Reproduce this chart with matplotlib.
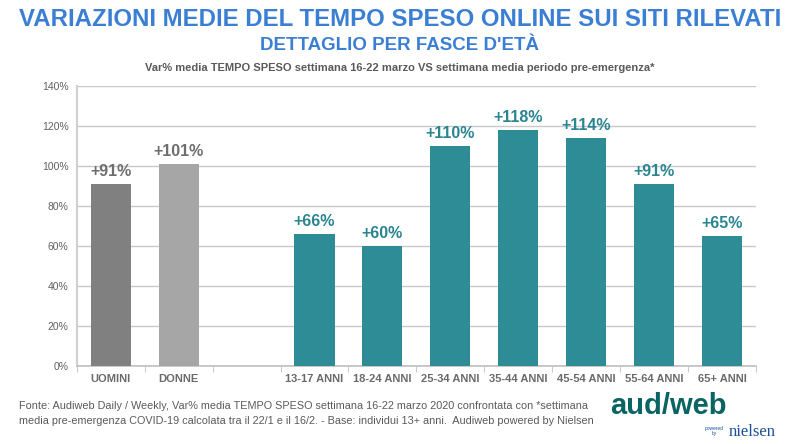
import matplotlib
matplotlib.use("Agg")
from matplotlib import pyplot as plt
import numpy as np

# valori
categorie = ["UOMINI", "DONNE", "", "13-17 ANNI", "18-24 ANNI", "25-34 ANNI",
             "35-44 ANNI", "45-54 ANNI", "55-64 ANNI", "65+ ANNI"]
valori = [91, 101, None, 66, 60, 110, 118, 114, 91, 65]
etichette = ["+91%", "+101%", "", "+66%", "+60%", "+110%", "+118%", "+114%", "+91%", "+65%"]
colori = ["#808080", "#a6a6a6", "none"] + ["#2e8c96"] * 7
colori_testo = ["#6e6e6e", "#6e6e6e", "none"] + ["#2a8590"] * 7
y_ticks = [0, 20, 40, 60, 80, 100, 120, 140]

plt.rcParams["font.family"] = ["Liberation Sans", "DejaVu Sans"]

fig = plt.figure(figsize=(8, 4.44), dpi=100)
ax = fig.add_axes([0.096, 0.176, 0.849, 0.630])

x = np.arange(len(categorie))
for i, v in enumerate(valori):
    if v is None:
        continue
    ax.bar(x[i], v, width=0.59, color=colori[i], zorder=3)
    ax.text(x[i], v + 2.5, etichette[i], ha="center", va="bottom",
            fontsize=11.5, fontweight="bold", color=colori_testo[i])

ax.set_xlim(-0.5, len(categorie) - 0.5)
ax.set_ylim(0, 140)
ax.set_yticks(y_ticks)
ax.set_yticklabels([f"{t}%" for t in y_ticks], fontsize=7.5, color="#606060")
ax.yaxis.grid(True, color="#c8c8c8", linewidth=1, zorder=0)
ax.tick_params(axis="y", length=0, pad=6)

ax.set_xticks(x)
ax.set_xticklabels(categorie, fontsize=8, fontweight="bold", color="#6a6a6a")
ax.tick_params(axis="x", which="major", length=0, pad=6)
ax.set_xticks(np.arange(-0.5, len(categorie)), minor=True)
ax.tick_params(axis="x", which="minor", length=4, color="#c0c0c0", direction="out")

for s in ["top", "right"]:
    ax.spines[s].set_visible(False)
ax.spines["left"].set_color("#d0d0d0")
ax.spines["left"].set_linewidth(1.5)
ax.spines["bottom"].set_color("#c0c0c0")
ax.spines["bottom"].set_linewidth(1.2)

fig.text(0.5, 0.955, "VARIAZIONI MEDIE DEL TEMPO SPESO ONLINE SUI SITI RILEVATI",
         ha="center", va="center", fontsize=17.3, fontweight="bold",
         color="#3b7fd4")
fig.text(0.5, 0.898, "DETTAGLIO PER FASCE D'ETÀ", ha="center", va="center",
         fontsize=13.5, fontweight="bold", color="#3b7fd4")
fig.text(0.5, 0.847,
         "Var% media TEMPO SPESO settimana 16-22 marzo VS settimana media periodo pre-emergenza*",
         ha="center", va="center", fontsize=8, fontweight="bold",
         color="#5a5a5a")

fig.text(0.024, 0.068,
         "Fonte: Audiweb Daily / Weekly, Var% media TEMPO SPESO settimana 16-22 marzo 2020 confrontata con *settimana\n"
         "media pre-emergenza COVID-19 calcolata tra il 22/1 e il 16/2. - Base: individui 13+ anni.  Audiweb powered by Nielsen",
         ha="left", va="center", fontsize=7.8, color="#5a5a5a",
         linespacing=1.6)

# logo
fig.text(0.763, 0.085, "aud/web", ha="left", va="center", fontsize=21,
         fontweight="bold", color="#0b6464")
fig.text(0.94, 0.028, "nielsen", ha="center", va="center", fontsize=12,
         color="#1a4f9a", family=["Liberation Serif", "DejaVu Serif"])
fig.text(0.893, 0.03, "powered\nby", ha="center", va="center", fontsize=3.5,
         color="#1a4f9a", linespacing=1.0)

fig.savefig("out.png", dpi=100)
